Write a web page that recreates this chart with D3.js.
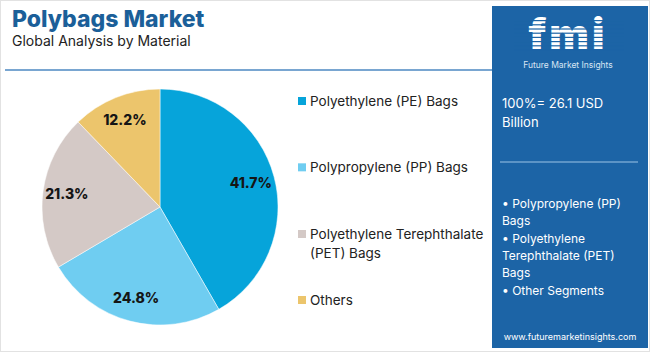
<!DOCTYPE html>
<html>
<head>
<meta charset="utf-8">
<script src="https://cdn.jsdelivr.net/npm/d3@7"></script>
<style>
  body { margin: 0; background: #fff; }
  svg text { font-family: Inter, "Open Sans", sans-serif; }
</style>
</head>
<body>
<svg id="chart" width="650" height="352"></svg>
<script>
// chart values
const categories = ["Polyethylene (PE) Bags", "Polypropylene (PP) Bags", "Polyethylene Terephthalate (PET) Bags", "Others"];
const legendLines = [["Polyethylene (PE) Bags"], ["Polypropylene (PP) Bags"], ["Polyethylene Terephthalate", "(PET) Bags"], ["Others"]];
const shares = [41.7, 24.8, 21.3, 12.2];
const colors = ["#06a4da", "#6fcdf1", "#d4c9c6", "#ecc56c"];
const panelTotal = ["100%= 26.1 USD", "Billion"];
const panelBullets = ["\u2022 Polypropylene (PP)", "Bags", "\u2022 Polyethylene", "Terephthalate (PET)", "Bags", "\u2022 Other Segments"];

const svg = d3.select("#chart");

// frame + header
svg.append("rect").attr("x", 0.5).attr("y", 0.5).attr("width", 649).attr("height", 351)
  .attr("fill", "none").attr("stroke", "#e2e2e2");

svg.append("text").attr("x", 12).attr("y", 27)
  .attr("font-size", 23).attr("font-weight", 800).attr("fill", "#1b5f99")
  .text("Polybags Market");
svg.append("text").attr("x", 12).attr("y", 46)
  .attr("font-size", 14).attr("fill", "#222")
  .text("Global Analysis by Material");

svg.append("line").attr("x1", 5).attr("x2", 492).attr("y1", 70).attr("y2", 70)
  .attr("stroke", "#4c88c2").attr("stroke-width", 1.5);

// pie
const cx = 160, cy = 207, r = 118;
const pie = d3.pie().sort(null).value(d => d);
const arc = d3.arc().innerRadius(0).outerRadius(r);
const labelArc = d3.arc().innerRadius(94).outerRadius(94);

const g = svg.append("g").attr("transform", "translate(" + cx + "," + cy + ")");
const arcs = pie(shares);

g.selectAll("path").data(arcs).enter().append("path")
  .attr("d", arc)
  .attr("fill", (d, i) => colors[i])
  .attr("stroke", "#fff").attr("stroke-width", 0.5);

g.selectAll("text.lbl").data(arcs).enter().append("text")
  .attr("class", "lbl")
  .attr("transform", d => "translate(" + labelArc.centroid(d) + ")")
  .attr("text-anchor", "middle").attr("dy", "0.35em")
  .attr("font-size", 14).attr("font-weight", 800).attr("fill", "#151515")
  .text(d => d.data.toFixed(1) + "%");

// legend
const legendY = d3.scalePoint().domain(categories).range([101, 300]);
const lg = svg.append("g");
categories.forEach(function(c, i){
  const y = i == 2 ? 234 : legendY(c);
  lg.append("rect").attr("x", 298).attr("y", y - 4).attr("width", 8).attr("height", 8)
    .attr("fill", colors[i]);
  legendLines[i].forEach(function(line, j){
    lg.append("text").attr("x", 310).attr("y", y + 5 + j * 19)
      .attr("font-size", 13.5).attr("fill", "#222").text(line);
  });
});

// right panel
svg.append("rect").attr("x", 492).attr("y", 6).attr("width", 156).attr("height", 342)
  .attr("fill", "#1c64a6");

// logo
const logo = svg.append("g");
logo.append("text").attr("x", 568).attr("y", 49).attr("text-anchor", "middle")
  .attr("font-size", 42).attr("font-weight", 900).attr("fill", "#fff")
  .attr("font-family", "'DejaVu Serif', serif").attr("letter-spacing", 3)
  .text("fmi");
for (let k = 0; k < 8; k++) {
  logo.append("rect").attr("x", 514).attr("y", 20 + k * 4.2).attr("width", 110).attr("height", 1.2)
    .attr("fill", "#1c64a6");
}
logo.append("text").attr("x", 568).attr("y", 68).attr("text-anchor", "middle")
  .attr("font-size", 8.5).attr("fill", "#d8e6f4").text("Future Market Insights");

panelTotal.forEach(function(t, i){
  svg.append("text").attr("x", 502).attr("y", 108 + i * 19)
    .attr("font-size", 13).attr("fill", "#fff").text(t);
});

svg.append("line").attr("x1", 500).attr("x2", 638).attr("y1", 162).attr("y2", 162)
  .attr("stroke", "#9cc3e6").attr("stroke-width", 1.2);

panelBullets.forEach(function(t, i){
  svg.append("text").attr("x", 502).attr("y", 208 + i * 17.3)
    .attr("font-size", 12).attr("fill", "#fff").text(t);
});

svg.append("text").attr("x", 570).attr("y", 340).attr("text-anchor", "middle")
  .attr("font-size", 9).attr("fill", "#fff").text("www.futuremarketinsights.com");
</script>
</body>
</html>
